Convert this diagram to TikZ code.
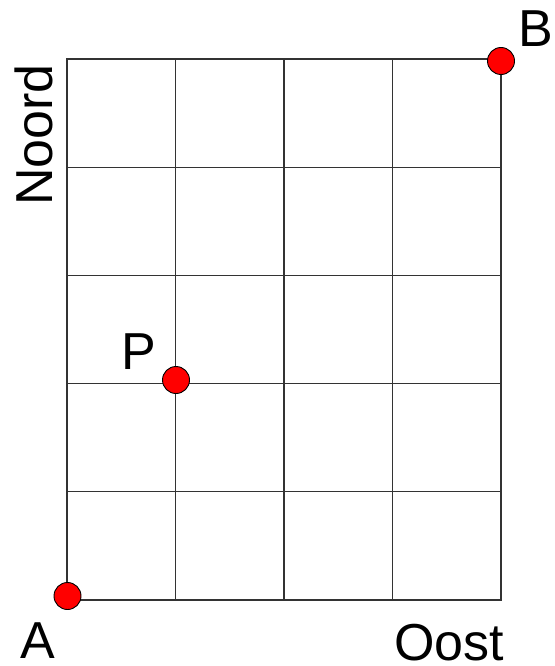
\documentclass[tikz,border=0pt]{standalone}
\usepackage{fontspec}
\setmainfont{Liberation Sans}
\begin{document}
\begin{tikzpicture}[x=1pt,y=-1pt,
  gridline/.style={draw=black!80,line width=1.3pt},
  dot/.style={circle,fill=red,draw=black,line width=0.9pt,minimum size=27pt,inner sep=0pt},
  lbl/.style={anchor=base west,inner sep=0pt,font=\fontsize{52}{60}\selectfont}]
\useasboundingbox (0,0) rectangle (554,666);
\coordinate (sw) at (67,600);
\coordinate (ne) at (501,59);
\draw[gridline] (sw) rectangle (ne);
\foreach \i in {1,2,3} \draw[gridline] ({67+\i*108.5},59) -- ({67+\i*108.5},600);
\foreach \j in {1,2,3,4} \draw[gridline] (67,{59+\j*108.2}) -- (501,{59+\j*108.2});
\node[dot] (A) at (67.5,596) {};
\node[dot] (B) at (501,61) {};
\node[dot] (P) at (176,380) {};
\node[lbl] (lA) at (20,658) {A};
\node[lbl] (lB) at (518,47) {B};
\node[lbl] (lP) at (121,369) {P};
\node[lbl] (lO) at (394,660) {Oost};
\node[lbl,rotate=90] (lN) at (52,206) {Noord};
\end{tikzpicture}
\end{document}
